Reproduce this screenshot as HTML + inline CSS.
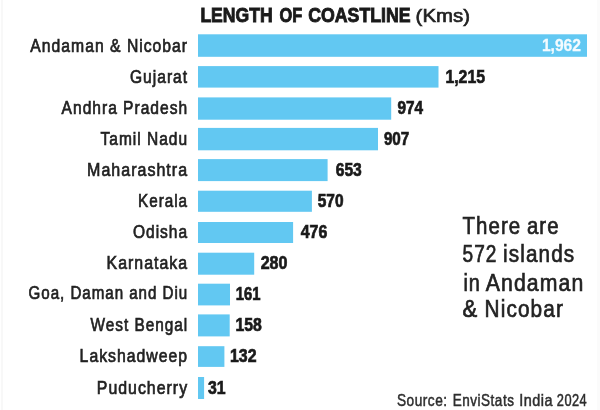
<!DOCTYPE html>
<html>
<head>
<meta charset="utf-8">
<title>Length of coastline</title>
<style>
html,body{margin:0;padding:0;background:#ffffff;}
body{width:600px;height:410px;overflow:hidden;font-family:"Liberation Sans",sans-serif;}
svg{display:block;will-change:transform;}
text{font-family:"Liberation Sans",sans-serif;}
.lbl{font-size:18.8px;fill:#222222;stroke:#222;stroke-width:0.7px;letter-spacing:1.2px;}
.val{font-size:18.2px;font-weight:bold;fill:#1a1a1a;stroke:#1a1a1a;stroke-width:0.7px;}
.ttl{font-size:19.6px;font-weight:bold;fill:#1a1a1a;stroke:#1a1a1a;stroke-width:0.9px;}
.unit{font-size:18.6px;fill:#222;stroke:#222;stroke-width:0.65px;}
.note{font-size:24.6px;fill:#222;stroke:#222;stroke-width:0.7px;letter-spacing:1.3px;}
.src{font-size:16.2px;fill:#2e2e2e;stroke:#2e2e2e;stroke-width:0.5px;letter-spacing:0.6px;}
</style>
</head>
<body>
<svg width="600" height="410" viewBox="0 0 600 410">
<rect x="0" y="0" width="600" height="410" fill="#ffffff"/>
<rect x="1" y="0" width="2" height="410" fill="#f8f8f8"/>
<rect x="597" y="0" width="3" height="410" fill="#fbfbfb"/>

<text class="ttl" x="200.40" y="22.30" textLength="72.20" lengthAdjust="spacingAndGlyphs">LENGTH</text>
<text class="ttl" x="279.60" y="22.30" textLength="22.70" lengthAdjust="spacingAndGlyphs">OF</text>
<text class="ttl" x="308.20" y="22.30" textLength="102.40" lengthAdjust="spacingAndGlyphs">COASTLINE</text>
<text class="unit" x="415.60" y="22.30" textLength="54.40" lengthAdjust="spacingAndGlyphs">(Kms)</text>
<rect x="198.00" y="34.30" width="389.00" height="22.50" fill="#62c8f2"/>
<text class="lbl" x="30.30" y="52.20" textLength="157.80" lengthAdjust="spacingAndGlyphs">Andaman &amp; Nicobar</text>
<text class="val" x="541.90" y="50.90" textLength="39.10" lengthAdjust="spacingAndGlyphs" style="fill:#f4fbff;stroke:#f4fbff;stroke-width:0.3px;font-size:17.2px">1,962</text>
<rect x="198.00" y="66.10" width="240.50" height="21.50" fill="#62c8f2"/>
<text class="lbl" x="130.00" y="82.60" textLength="58.10" lengthAdjust="spacingAndGlyphs">Gujarat</text>
<text class="val" x="445.40" y="83.20" textLength="39.60" lengthAdjust="spacingAndGlyphs">1,215</text>
<rect x="198.00" y="97.40" width="193.20" height="22.30" fill="#62c8f2"/>
<text class="lbl" x="61.60" y="113.60" textLength="126.50" lengthAdjust="spacingAndGlyphs">Andhra Pradesh</text>
<text class="val" x="397.40" y="113.80" textLength="25.60" lengthAdjust="spacingAndGlyphs">974</text>
<rect x="198.00" y="127.90" width="180.00" height="22.40" fill="#62c8f2"/>
<text class="lbl" x="100.60" y="144.60" textLength="87.50" lengthAdjust="spacingAndGlyphs">Tamil Nadu</text>
<text class="val" x="383.90" y="145.40" textLength="25.40" lengthAdjust="spacingAndGlyphs">907</text>
<rect x="198.00" y="159.10" width="129.60" height="22.00" fill="#62c8f2"/>
<text class="lbl" x="87.10" y="176.00" textLength="101.00" lengthAdjust="spacingAndGlyphs">Maharashtra</text>
<text class="val" x="335.70" y="175.90" textLength="26.10" lengthAdjust="spacingAndGlyphs">653</text>
<rect x="198.00" y="190.70" width="113.90" height="21.10" fill="#62c8f2"/>
<text class="lbl" x="138.10" y="207.00" textLength="50.00" lengthAdjust="spacingAndGlyphs">Kerala</text>
<text class="val" x="317.70" y="207.00" textLength="25.80" lengthAdjust="spacingAndGlyphs">570</text>
<rect x="198.00" y="222.00" width="95.10" height="21.00" fill="#62c8f2"/>
<text class="lbl" x="133.00" y="237.90" textLength="55.10" lengthAdjust="spacingAndGlyphs">Odisha</text>
<text class="val" x="300.70" y="238.20" textLength="26.60" lengthAdjust="spacingAndGlyphs">476</text>
<rect x="198.00" y="252.70" width="56.20" height="22.00" fill="#62c8f2"/>
<text class="lbl" x="106.60" y="269.00" textLength="81.50" lengthAdjust="spacingAndGlyphs">Karnataka</text>
<text class="val" x="260.70" y="268.90" textLength="26.80" lengthAdjust="spacingAndGlyphs">280</text>
<rect x="198.00" y="283.70" width="32.00" height="21.70" fill="#62c8f2"/>
<text class="lbl" x="28.60" y="299.30" textLength="159.50" lengthAdjust="spacingAndGlyphs">Goa, Daman and Diu</text>
<text class="val" x="235.70" y="300.00" textLength="24.80" lengthAdjust="spacingAndGlyphs">161</text>
<rect x="198.00" y="314.40" width="31.70" height="22.00" fill="#62c8f2"/>
<text class="lbl" x="90.60" y="330.90" textLength="97.50" lengthAdjust="spacingAndGlyphs">West Bengal</text>
<text class="val" x="235.40" y="331.00" textLength="26.30" lengthAdjust="spacingAndGlyphs">158</text>
<rect x="198.00" y="346.20" width="26.40" height="20.70" fill="#62c8f2"/>
<text class="lbl" x="79.60" y="361.60" textLength="108.50" lengthAdjust="spacingAndGlyphs">Lakshadweep</text>
<text class="val" x="230.00" y="361.80" textLength="26.50" lengthAdjust="spacingAndGlyphs">132</text>
<rect x="198.00" y="377.00" width="6.10" height="22.00" fill="#62c8f2"/>
<text class="lbl" x="96.80" y="393.50" textLength="91.30" lengthAdjust="spacingAndGlyphs">Puducherry</text>
<text class="val" x="207.90" y="393.80" textLength="17.60" lengthAdjust="spacingAndGlyphs">31</text>
<text class="note" x="462.50" y="234.40" textLength="58.80" lengthAdjust="spacingAndGlyphs">There</text>
<text class="note" x="526.90" y="234.40" textLength="32.70" lengthAdjust="spacingAndGlyphs">are</text>
<text class="note" x="462.50" y="262.00" textLength="34.90" lengthAdjust="spacingAndGlyphs">572</text>
<text class="note" x="503.10" y="262.00" textLength="72.10" lengthAdjust="spacingAndGlyphs">islands</text>
<text class="note" x="463.40" y="290.50" textLength="17.60" lengthAdjust="spacingAndGlyphs">in</text>
<text class="note" x="485.70" y="290.50" textLength="98.80" lengthAdjust="spacingAndGlyphs">Andaman</text>
<text class="note" x="462.50" y="316.90" textLength="15.90" lengthAdjust="spacingAndGlyphs">&amp;</text>
<text class="note" x="484.60" y="316.90" textLength="79.40" lengthAdjust="spacingAndGlyphs">Nicobar</text>
<text class="src" x="397.00" y="405.60" textLength="50.60" lengthAdjust="spacingAndGlyphs">Source:</text>
<text class="src" x="452.80" y="405.60" textLength="61.60" lengthAdjust="spacingAndGlyphs">EnviStats</text>
<text class="src" x="519.20" y="405.60" textLength="34.00" lengthAdjust="spacingAndGlyphs">India</text>
<text class="src" x="556.80" y="405.60" textLength="30.40" lengthAdjust="spacingAndGlyphs">2024</text>
</svg>
</body>
</html>
